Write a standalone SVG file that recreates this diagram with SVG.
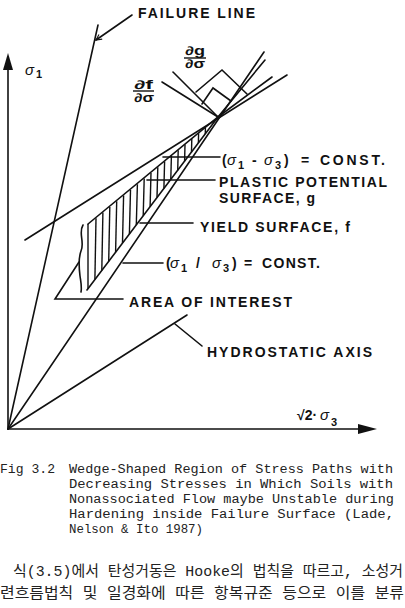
<svg xmlns="http://www.w3.org/2000/svg" width="405" height="608" viewBox="0 0 405 608">
<defs>
<style>
.ln{stroke:#111;stroke-width:1.6;fill:none;stroke-linecap:round;stroke-linejoin:miter}
.th{stroke:#111;stroke-width:1.4;fill:none}
.lb{font-family:"Liberation Sans",Arial,sans-serif;font-weight:bold;font-size:14px;fill:#111}
.sg{font-family:"Liberation Sans",Arial,sans-serif;font-style:italic;font-weight:normal;font-size:15px;fill:#111}
.sb{font-family:"Liberation Sans",Arial,sans-serif;font-weight:bold;font-size:11px;fill:#111}
.fr{font-family:"Liberation Sans",Arial,sans-serif;font-weight:bold;font-size:12px;fill:#111}
.cap{font-family:"Liberation Mono","Courier New",monospace;font-size:12.5px;fill:#222}
.kr{font-family:"Liberation Mono","Noto Sans CJK KR",monospace;font-size:15px;fill:#222}
</style>
<marker id="open" viewBox="0 0 10 10" refX="9" refY="5" markerWidth="7" markerHeight="7" orient="auto" markerUnits="userSpaceOnUse">
<path d="M1,1 L9,5 L1,9" fill="none" stroke="#111" stroke-width="1.6"/>
</marker>
</defs>
<rect width="405" height="608" fill="#fff"/>

<g id="axes">
<line class="ln" x1="8" y1="429" x2="8" y2="68"/>
<polygon points="8,53 3,70 13,70" fill="#111"/>
<line class="ln" x1="8" y1="429" x2="362" y2="429"/>
<polygon points="377,429 358,424 358,434" fill="#111"/>
</g>

<g id="hatch">
<line class="th" x1="88" y1="288.7" x2="88" y2="224"/>
<line class="th" x1="94.9" y1="279.6" x2="96" y2="218.3"/>
<line class="th" x1="101.8" y1="270.5" x2="102.9" y2="212.6"/>
<line class="th" x1="108.7" y1="261.4" x2="109.8" y2="206.9"/>
<line class="th" x1="115.6" y1="252.2" x2="116.7" y2="201.3"/>
<line class="th" x1="122.5" y1="243.1" x2="123.6" y2="195.6"/>
<line class="th" x1="129.4" y1="234" x2="130.5" y2="189.9"/>
<line class="th" x1="136.3" y1="224.9" x2="137.4" y2="184.2"/>
<line class="th" x1="143.2" y1="215.8" x2="144.2" y2="178.6"/>
<line class="th" x1="150.1" y1="206.7" x2="151" y2="172.9"/>
<line class="th" x1="157" y1="197.6" x2="157.8" y2="167.2"/>
<line class="th" x1="163.9" y1="188.6" x2="164.6" y2="161.5"/>
<line class="th" x1="170.8" y1="179.5" x2="171.4" y2="155.9"/>
<line class="th" x1="177.7" y1="170.4" x2="178.2" y2="150.2"/>
<line class="th" x1="184.6" y1="161.3" x2="185" y2="144.5"/>
<line class="th" x1="191.5" y1="152.2" x2="191.8" y2="138.8"/>
<line class="th" x1="198.4" y1="143.1" x2="198.6" y2="133.2"/>
<line class="th" x1="205.3" y1="134" x2="205.4" y2="127.5"/>
</g>

<g id="connectors">
<line id="failure-line" class="ln" x1="8" y1="429" x2="98" y2="25"/>
<line id="ratio-line" class="ln" x1="8" y1="429" x2="264" y2="52"/>
<line id="hydrostatic-axis" class="ln" x1="8" y1="429" x2="187" y2="315"/>
<line id="diff-line" class="ln" x1="25" y1="240" x2="287" y2="75"/>
<path id="plastic-potential" class="ln" d="M88,224 L218,117 L272,77"/>
<path id="yield-surface" class="ln" d="M87,290 L218,117 L265,60"/>
<line id="normal-g" class="ln" x1="218" y1="117" x2="173" y2="72"/>
<line id="normal-f" class="ln" x1="218" y1="117" x2="162" y2="82"/>
<polyline class="ln" points="196,92 222,70 247,94"/>
<polyline class="ln" points="202,104 213,88 231,101"/>
<path id="area-break" class="ln" d="M83,225 C78,233 85,242 81,251 C78,259 79,268 80,276 C81,283 82,287 81,292"/>
<line class="ln" x1="132" y1="15" x2="96" y2="40" marker-end="url(#open)"/>
<line class="ln" x1="163" y1="157" x2="220" y2="157"/>
<line class="ln" x1="147" y1="180" x2="215" y2="180"/>
<line class="ln" x1="140" y1="223" x2="193" y2="223"/>
<line class="ln" x1="123" y1="263" x2="163" y2="263"/>
<polyline class="ln" points="123,299 55,299 79,262"/>
<line class="ln" x1="175" y1="324" x2="202" y2="346"/>
</g>

<g id="label-failure-line"><text class="lb" x="138" y="18" textLength="117" lengthAdjust="spacing">FAILURE LINE</text></g>

<g id="label-sigma1"><text class="sg" x="25" y="75" font-weight="bold">σ</text><text class="sb" x="36" y="78">1</text></g>

<g id="label-dg">
<text class="fr" x="185" y="55" textLength="20" lengthAdjust="spacingAndGlyphs">∂g</text>
<line x1="184" y1="58" x2="206" y2="58" stroke="#111" stroke-width="1.4"/>
<text class="fr" x="185" y="68" textLength="20" lengthAdjust="spacingAndGlyphs">∂σ</text>
</g>

<g id="label-df">
<text class="fr" x="134" y="89" textLength="19" lengthAdjust="spacingAndGlyphs">∂f</text>
<line x1="133" y1="91" x2="154" y2="91" stroke="#111" stroke-width="1.4"/>
<text class="fr" x="134" y="102" textLength="20" lengthAdjust="spacingAndGlyphs">∂σ</text>
</g>

<g id="label-diff">
<text class="lb" x="222" y="165">(</text>
<text class="sg" x="227" y="165">σ</text>
<text class="sb" x="238" y="169">1</text>
<text class="lb" x="252" y="165">-</text>
<text class="sg" x="264" y="165">σ</text>
<text class="sb" x="275" y="169">3</text>
<text class="lb" x="284" y="165">)</text>
<text class="lb" x="301" y="165">=</text>
<text class="lb" x="320" y="165" textLength="65" lengthAdjust="spacing">CONST.</text>
</g>

<g id="label-plastic">
<text class="lb" x="219" y="187" textLength="168" lengthAdjust="spacing">PLASTIC POTENTIAL</text>
<text class="lb" x="219" y="203" textLength="96" lengthAdjust="spacing">SURFACE, g</text>
</g>

<g id="label-yield"><text class="lb" x="200" y="232" textLength="150" lengthAdjust="spacing">YIELD SURFACE, f</text></g>

<g id="label-ratio">
<text class="lb" x="166" y="268">(</text>
<text class="sg" x="170" y="268">σ</text>
<text class="sb" x="181" y="272">1</text>
<text class="lb" x="196" y="268">/</text>
<text class="sg" x="212" y="268">σ</text>
<text class="sb" x="223" y="272">3</text>
<text class="lb" x="232" y="268">)</text>
<text class="lb" x="244" y="268">=</text>
<text class="lb" x="262" y="268" textLength="58" lengthAdjust="spacing">CONST.</text>
</g>

<g id="label-area"><text class="lb" x="129" y="307" textLength="163" lengthAdjust="spacing">AREA OF INTEREST</text></g>

<g id="label-hydro"><text class="lb" x="207" y="357" textLength="165" lengthAdjust="spacing">HYDROSTATIC AXIS</text></g>

<g id="label-sigma3">
<text class="lb" x="297" y="420">√2·</text>
<text class="sg" x="320" y="420">σ</text>
<text class="sb" x="331" y="426" font-size="13">3</text>
</g>

<g id="caption">
<text class="cap" x="0" y="473" textLength="55" lengthAdjust="spacingAndGlyphs">Fig 3.2</text>
<text class="cap" x="69" y="473" textLength="324" lengthAdjust="spacingAndGlyphs">Wedge-Shaped Region of Stress Paths with</text>
<text class="cap" x="69" y="488" textLength="324" lengthAdjust="spacingAndGlyphs">Decreasing Stresses in Which Soils with</text>
<text class="cap" x="69" y="503" textLength="325" lengthAdjust="spacingAndGlyphs">Nonassociated Flow maybe Unstable during</text>
<text class="cap" x="69" y="518" textLength="325" lengthAdjust="spacingAndGlyphs">Hardening inside Failure Surface (Lade,</text>
<text class="cap" x="69" y="533" textLength="134" lengthAdjust="spacingAndGlyphs">Nelson &amp; Ito 1987)</text>
</g>

<g id="body-text">
<text class="kr" x="13" y="576" textLength="390" lengthAdjust="spacingAndGlyphs">식(3.5)에서 탄성거동은 Hooke의 법칙을 따르고, 소성거</text>
<text class="kr" x="0" y="598" textLength="404" lengthAdjust="spacingAndGlyphs">련흐름법칙 및 일경화에 따른 항복규준 등으로 이를 분류</text>
</g>
</svg>
